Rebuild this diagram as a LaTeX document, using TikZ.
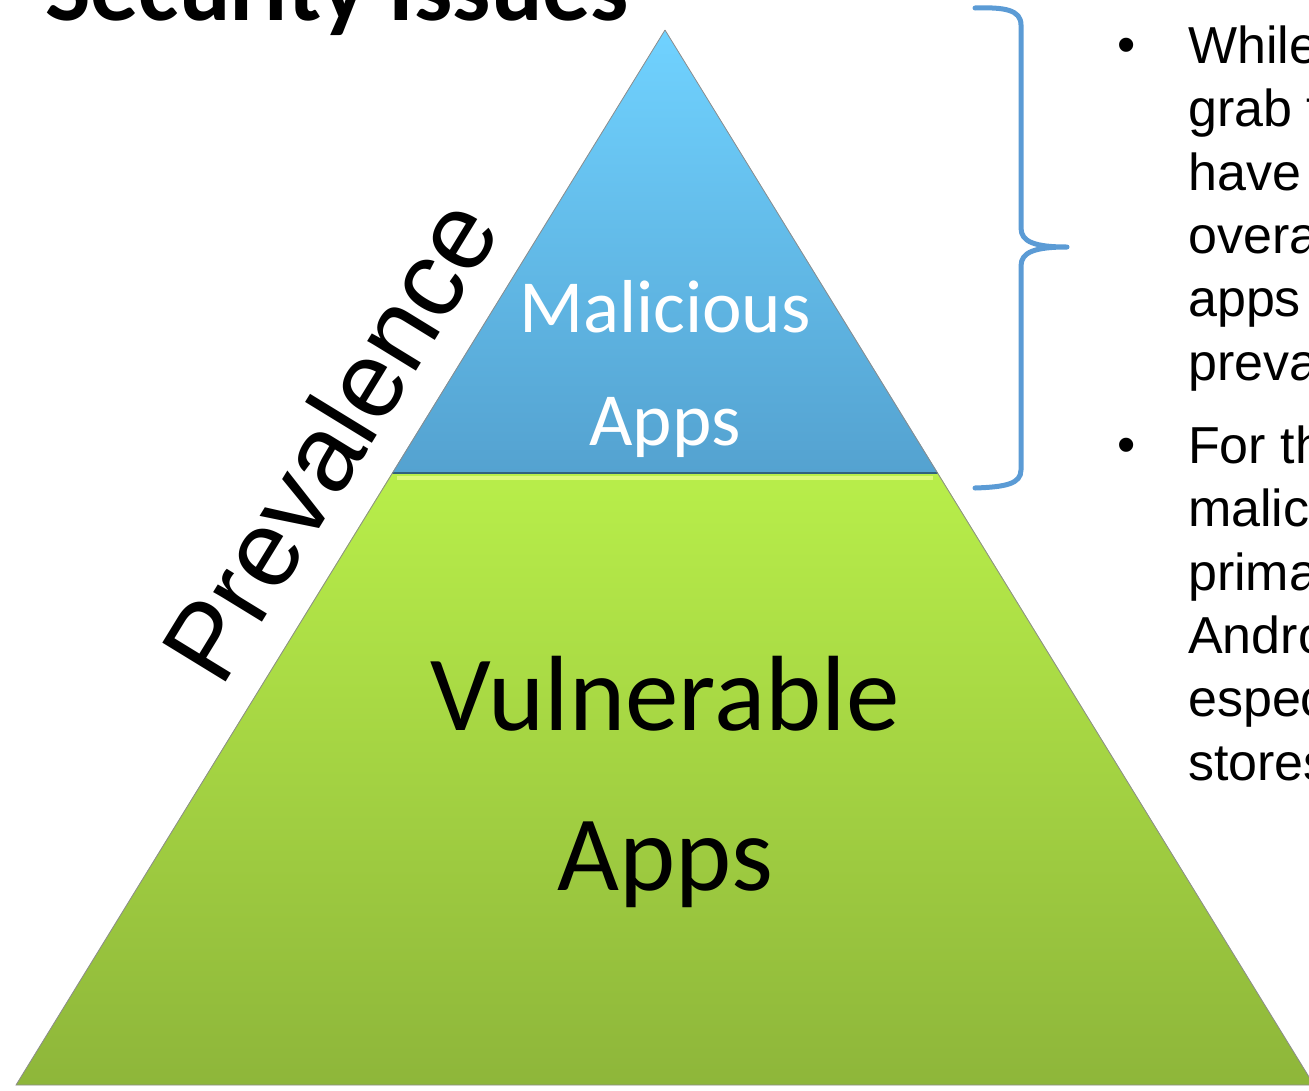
\documentclass[tikz,border=0pt]{standalone}
\usepackage{fontspec}
\setmainfont{Carlito}
\newfontfamily\arialfont{Liberation Sans}
\usetikzlibrary{calc}

\definecolor{malTop}{HTML}{70D2FF}
\definecolor{malBot}{HTML}{54A2D0}
\definecolor{vulTop}{HTML}{B8EE4A}
\definecolor{vulBot}{HTML}{8EB63A}
\definecolor{vulLight}{HTML}{DDF87C}
\definecolor{braceBlue}{HTML}{5B9BD5}

\begin{document}
\begin{tikzpicture}[x=1pt, y=-1pt,
  tier text/.style={inner sep=0pt, anchor=base},
  note text/.style={inner sep=0pt, anchor=base west, align=left,
    font=\arialfont\fontsize{52}{63.3}\selectfont}]

\useasboundingbox (0,0) rectangle (1309,1090);
\clip (0,0) rectangle (1309,1090);

% pyramid corners: apex, split line, base (base runs off the right edge)
\coordinate (top)  at (665,30);
\coordinate (midL) at (392,473);
\coordinate (midR) at (938,473);
\coordinate (botL) at (16,1085);
\coordinate (botR) at (1314,1085);

% the two tiers
\shade[top color=malTop, bottom color=malBot] (top) -- (midR) -- (midL) -- cycle;
\shade[top color=vulTop, bottom color=vulBot] (midL) -- (midR) -- (botR) -- (botL) -- cycle;

% bevel edges
\draw[malBot!60!black, line width=2pt] (midL) -- (midR);
\draw[vulLight, line width=4pt] ($(midL)+(5,5)$) -- ($(midR)+(-5,5)$);
\draw[black!45, line width=0.8pt] (top) -- (botR);
\draw[black!45, line width=0.8pt] (top) -- (botL) -- (botR);

% title, cut by the top edge
\node[inner sep=0pt, anchor=base west, font=\bfseries\fontsize{96}{100}\selectfont] (title) at (45,20) {Security Issues};

% tier labels
\node[tier text, white, font=\fontsize{75}{80}\selectfont] (mal1) at (665,332) {Malicious};
\node[tier text, white, font=\fontsize{75}{80}\selectfont] (mal2) at (665,445) {Apps};
\node[tier text, font=\fontsize{107}{110}\selectfont] (vul1) at (665,730) {Vulnerable};
\node[tier text, font=\fontsize{107}{110}\selectfont] (vul2) at (665,890) {Apps};

% axis word along the left side
\node[inner sep=0pt, anchor=base west, rotate=58.5, font=\arialfont\fontsize{108}{108}\selectfont] (prev) at (221,690) {Prevalence};

% brace next to the top tier
\draw[braceBlue, line width=5pt, line cap=round, line join=round]
  (975,8) .. controls (1005,7) and (1021,10) .. (1021,25) -- (1021,228)
  .. controls (1021,242) and (1035,247) .. (1067,247)
  .. controls (1035,247) and (1021,252) .. (1021,266) -- (1021,470)
  .. controls (1021,484) and (1005,487) .. (975,488);

% bullet notes, running off the right edge (base = last line)
\node[note text] (bulA) at (1117,62) {•};
\node[note text] (noteA) at (1188,380) {While\\grab the\\have\\overall\\apps\\prevalent};
\node[note text] (bulB) at (1117,462) {•};
\node[note text] (noteB) at (1188,780) {For the\\malicious\\primarily\\Android\\especially\\stores};

\end{tikzpicture}
\end{document}
